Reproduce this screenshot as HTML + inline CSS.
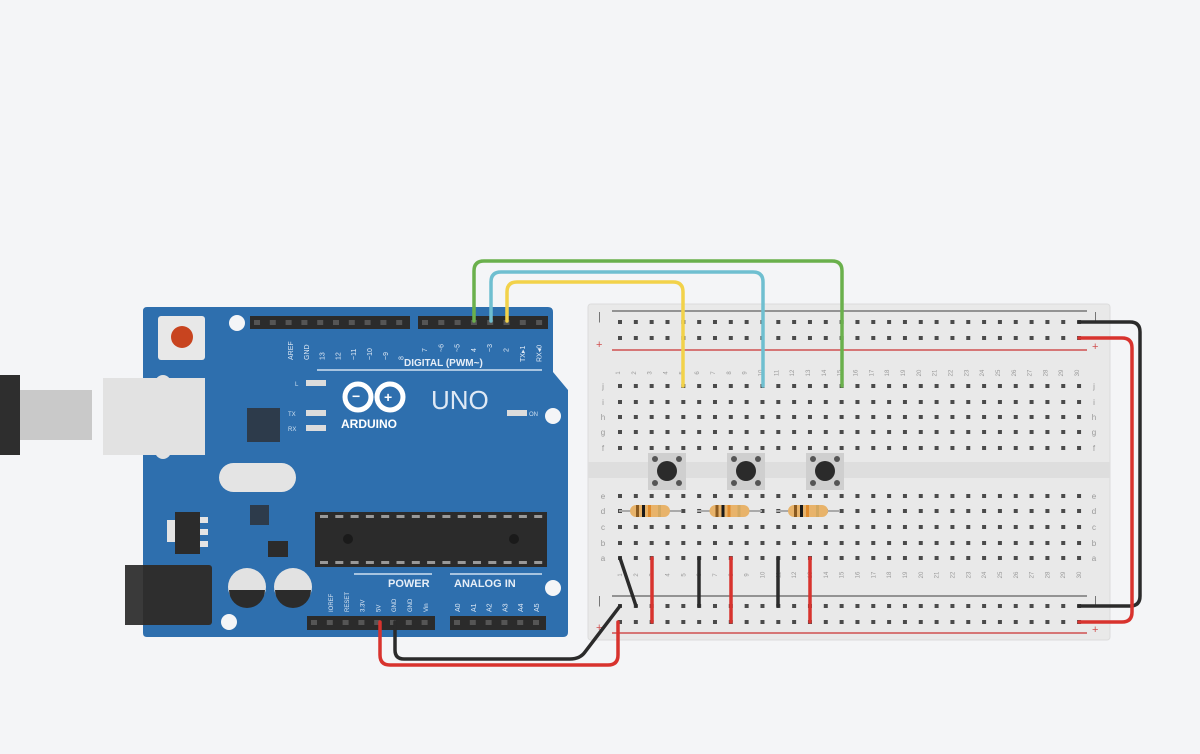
<!DOCTYPE html>
<html><head><meta charset="utf-8"><style>
html,body{margin:0;padding:0;background:#f4f5f7;}
svg{display:block;font-family:"Liberation Sans",sans-serif;}
</style></head><body>
<svg id="s" width="1200" height="754" viewBox="0 0 1200 754" xmlns="http://www.w3.org/2000/svg">
<rect width="1200" height="754" fill="#f4f5f7"/>
<rect x="0" y="375" width="20" height="80" fill="#2e2e2e"/>
<rect x="20" y="390" width="72" height="50" fill="#c9c9c9"/>
<path d="M147,307 L548,307 Q553,307 553,312 L553,372 L568,390 L568,632 Q568,637 563,637 L147,637 Q143,637 143,633 L143,311 Q143,307 147,307 Z" fill="#2e6fae"/>
<rect x="103" y="378" width="102" height="77" fill="#e2e2e2"/>
<circle cx="163" cy="383" r="8" fill="#e2e2e2"/><circle cx="163" cy="451" r="8" fill="#e2e2e2"/>
<rect x="158" y="316" width="47" height="44" rx="3" fill="#e8e8e8"/>
<circle cx="182" cy="337" r="11" fill="#c8441f"/>
<circle cx="237" cy="323" r="8" fill="#f4f5f7"/>
<circle cx="553" cy="416" r="8" fill="#f4f5f7"/>
<circle cx="553" cy="588" r="8" fill="#f4f5f7"/>
<circle cx="229" cy="622" r="8" fill="#f4f5f7"/>
<rect x="250" y="316" width="160" height="13" fill="#2b2b2b"/>
<rect x="418" y="316" width="130" height="13" fill="#2b2b2b"/>
<rect x="307" y="616" width="128" height="14" fill="#2b2b2b"/>
<rect x="450" y="616" width="96" height="14" fill="#2b2b2b"/>
<g id="pins"></g>
<line x1="317" y1="370" x2="542" y2="370" stroke="#cfe0f0" stroke-width="1.5"/>
<text x="404" y="366" font-size="10" font-weight="bold" fill="#e6eef7">DIGITAL (PWM~)</text>
<g fill="none" stroke="#ffffff" stroke-width="5">
<circle cx="358" cy="397" r="13"/><circle cx="390" cy="397" r="13"/>
</g>
<text x="352" y="401" font-size="14" font-weight="bold" fill="#fff">−</text>
<text x="384" y="402" font-size="14" font-weight="bold" fill="#fff">+</text>
<text x="341" y="428" font-size="12" font-weight="bold" fill="#fff">ARDUINO</text>
<text x="431" y="409" font-size="26" fill="#dfe9f5">UNO</text>
<text x="295" y="386" font-size="6" fill="#cfe0f0">L</text>
<rect x="306" y="380" width="20" height="6" fill="#dcdcdc"/>
<text x="288" y="416" font-size="6" fill="#cfe0f0">TX</text>
<rect x="306" y="410" width="20" height="6" fill="#dcdcdc"/>
<text x="288" y="431" font-size="6" fill="#cfe0f0">RX</text>
<rect x="306" y="425" width="20" height="6" fill="#dcdcdc"/>
<rect x="507" y="410" width="20" height="6" fill="#dcdcdc"/>
<text x="529" y="416" font-size="6" fill="#cfe0f0">ON</text>
<rect x="247" y="408" width="33" height="34" fill="#2d3b4b"/>
<rect x="219" y="463" width="77" height="29" rx="14.5" fill="#e4e4e4"/>
<rect x="250" y="505" width="19" height="20" fill="#2d3b4b"/>
<rect x="167" y="520" width="10" height="22" fill="#e4e4e4"/>
<rect x="175" y="512" width="25" height="42" fill="#2b2b2b"/>
<rect x="200" y="517" width="8" height="6" fill="#e4e4e4"/><rect x="200" y="529" width="8" height="6" fill="#e4e4e4"/><rect x="200" y="541" width="8" height="6" fill="#e4e4e4"/>
<rect x="268" y="541" width="20" height="16" fill="#2b2b2b"/>
<rect x="315" y="512" width="232" height="55" fill="#2b2b2b"/>
<circle cx="348" cy="539" r="5" fill="#1a1a1a"/><circle cx="514" cy="539" r="5" fill="#1a1a1a"/>
<g id="chippins"></g>
<circle cx="247" cy="587" r="19" fill="#e2e2e2"/><path d="M229,590 A18,18 0 0 0 265,590 Z" fill="#2b2b2b"/>
<circle cx="293" cy="587" r="19" fill="#e2e2e2"/><path d="M275,590 A18,18 0 0 0 311,590 Z" fill="#2b2b2b"/>
<rect x="125" y="565" width="87" height="60" rx="3" fill="#2e2e2e"/>
<rect x="125" y="565" width="18" height="60" fill="#3a3a3a"/>
<line x1="354" y1="574" x2="432" y2="574" stroke="#cfe0f0" stroke-width="1.5"/>
<line x1="450" y1="574" x2="542" y2="574" stroke="#cfe0f0" stroke-width="1.5"/>
<text x="388" y="587" font-size="11" font-weight="bold" fill="#e6eef7">POWER</text>
<text x="454" y="587" font-size="11" font-weight="bold" fill="#e6eef7">ANALOG IN</text>
<g id="plabels" font-size="6" fill="#dfe9f5"></g>
<rect x="588" y="304" width="522" height="336" rx="3" fill="#e9e9e9" stroke="#dcdcdc"/>
<rect x="588" y="462" width="522" height="16" fill="#dedede"/>
<line x1="612" y1="311" x2="1087" y2="311" stroke="#777" stroke-width="1.5"/>
<line x1="612" y1="350" x2="1087" y2="350" stroke="#d05050" stroke-width="1.5"/>
<line x1="612" y1="596" x2="1087" y2="596" stroke="#777" stroke-width="1.5"/>
<line x1="612" y1="633" x2="1087" y2="633" stroke="#d05050" stroke-width="1.5"/>
<g font-size="11" fill="#666"><text x="598" y="320">|</text><text x="596" y="348" fill="#d05050">+</text>
<text x="598" y="604">|</text><text x="596" y="631" fill="#d05050">+</text>
<text x="1094" y="320">|</text><text x="1092" y="350" fill="#d05050">+</text>
<text x="1094" y="604">|</text><text x="1092" y="633" fill="#d05050">+</text></g>
<g id="dots"></g>
<g id="btns"></g>
<g id="res"></g>
<g stroke-width="3.5" stroke-linecap="round" fill="none">
<line x1="620" y1="558" x2="636" y2="606" stroke="#2b2b2b"/>
<line x1="652" y1="558" x2="652" y2="622" stroke="#d8332e"/>
<line x1="699" y1="558" x2="699" y2="606" stroke="#2b2b2b"/>
<line x1="731" y1="558" x2="731" y2="622" stroke="#d8332e"/>
<line x1="778" y1="558" x2="778" y2="606" stroke="#2b2b2b"/>
<line x1="810" y1="558" x2="810" y2="622" stroke="#d8332e"/>
<path d="M1079,322 L1130,322 Q1140,322 1140,332 L1140,596 Q1140,606 1130,606 L1079,606" stroke="#2b2b2b"/>
<path d="M1079,338 L1122,338 Q1132,338 1132,348 L1132,612 Q1132,622 1122,622 L1079,622" stroke="#d8332e"/>
<path d="M380,622 L380,655 Q380,665 390,665 L608,665 Q618,665 618,655 L618,622" stroke="#d8332e"/>
<path d="M395,622 L395,650 Q395,659 404,659 L570,659 Q580,659 585,652 L620,606" stroke="#2b2b2b"/>
<path d="M474,321 L474,271 Q474,261 484,261 L832,261 Q842,261 842,271 L842,386" stroke="#6ab04c"/>
<path d="M491,321 L491,282 Q491,272 501,272 L753,272 Q763,272 763,282 L763,386" stroke="#6fbfd0"/>
<path d="M507,321 L507,292 Q507,282 517,282 L673,282 Q683,282 683,292 L683,386" stroke="#f2d24a"/>
</g>
</svg>
<script>
const NS="http://www.w3.org/2000/svg";
function el(p,t,a,txt){const e=document.createElementNS(NS,t);for(const k in a)e.setAttribute(k,a[k]);if(txt!==undefined)e.textContent=txt;document.getElementById(p).appendChild(e);return e;}
for(let i=0;i<10;i++)el("pins","rect",{x:254+i*15.8,y:320,width:6,height:5,fill:"#555"});
for(let i=0;i<8;i++)el("pins","rect",{x:422+i*16.3,y:320,width:6,height:5,fill:"#555"});
for(let i=0;i<8;i++)el("pins","rect",{x:311+i*15.8,y:620,width:6,height:5,fill:"#555"});
for(let i=0;i<6;i++)el("pins","rect",{x:454+i*15.8,y:620,width:6,height:5,fill:"#555"});
for(let i=0;i<15;i++){el("chippins","rect",{x:320+i*15.3,y:515,width:8,height:3,fill:"#999"});el("chippins","rect",{x:320+i*15.3,y:561,width:8,height:3,fill:"#999"});}
const top1=["AREF","GND","13","12","~11","~10","~9","8"];
top1.forEach((t,i)=>{const x=293+i*15.8;el("plabels","text",{x:x,y:360,transform:`rotate(-90 ${x} 360)`,"font-size":"7"},t);});
const top2=["7","~6","~5","4","~3","2"];
top2.forEach((t,i)=>{const x=427+i*16.3;el("plabels","text",{x:x,y:352,transform:`rotate(-90 ${x} 352)`,"font-size":"7"},t);});
["TX▸1","RX◂0"].forEach((t,i)=>{const x=525+i*16.3;el("plabels","text",{x:x,y:362,transform:`rotate(-90 ${x} 362)`,"font-size":"7"},t);});
const bl=["IOREF","RESET","3.3V","5V","GND","GND","Vin"];
bl.forEach((t,i)=>{const x=333+i*15.8;el("plabels","text",{x:x,y:612,transform:`rotate(-90 ${x} 612)`},t);});
["A0","A1","A2","A3","A4","A5"].forEach((t,i)=>{const x=460+i*15.8;el("plabels","text",{x:x,y:612,transform:`rotate(-90 ${x} 612)`,"font-size":"7"},t);});
const cx=i=>620+i*15.83;
const rows=[322,338,386,402,417,432,448,496,511,527,543,558,606,622];
rows.forEach(y=>{for(let i=0;i<30;i++)el("dots","rect",{x:cx(i)-2,y:y-2,width:4,height:4,fill:"#4a4a4a"});});
for(let i=0;i<30;i++){const x=cx(i);el("dots","text",{x:x,y:373,transform:`rotate(-90 ${x} 373)`,"font-size":"6",fill:"#999","text-anchor":"middle"},String(i+1));el("dots","text",{x:x+2,y:575,transform:`rotate(-90 ${x+2} 575)`,"font-size":"6",fill:"#999","text-anchor":"middle"},String(i+1));}
["j","i","h","g","f"].forEach((l,k)=>{const y=[386,402,417,432,448][k];el("dots","text",{x:603,y:y+3,"font-size":"8",fill:"#999","text-anchor":"middle"},l);el("dots","text",{x:1094,y:y+3,"font-size":"8",fill:"#999","text-anchor":"middle"},l);});
["e","d","c","b","a"].forEach((l,k)=>{const y=[496,511,527,543,558][k];el("dots","text",{x:603,y:y+3,"font-size":"8",fill:"#999","text-anchor":"middle"},l);el("dots","text",{x:1094,y:y+3,"font-size":"8",fill:"#999","text-anchor":"middle"},l);});
[667,746,825].forEach(x=>{el("btns","rect",{x:x-19,y:453,width:38,height:37,fill:"#cfcfcf"});
[[-12,-12],[12,-12],[-12,12],[12,12]].forEach(d=>el("btns","circle",{cx:x+d[0],cy:471+d[1],r:3,fill:"#555"}));
el("btns","circle",{cx:x,cy:471,r:10,fill:"#2b2b2b"});});
[[619,681],[697,762],[776,840]].forEach(([a,b])=>{
el("res","line",{x1:a,y1:511,x2:b,y2:511,stroke:"#aaa","stroke-width":"2"});
const m=(a+b)/2;el("res","rect",{x:m-20,y:505,width:40,height:12,rx:6,fill:"#e8b36a"});
el("res","rect",{x:m-14,y:505,width:3,height:12,fill:"#8a5a20"});
el("res","rect",{x:m-8,y:505,width:3,height:12,fill:"#1a1a1a"});
el("res","rect",{x:m-2,y:505,width:3,height:12,fill:"#e08a2a"});
el("res","rect",{x:m+8,y:505,width:3,height:12,fill:"#d4a860"});});
</script>
</body></html>
